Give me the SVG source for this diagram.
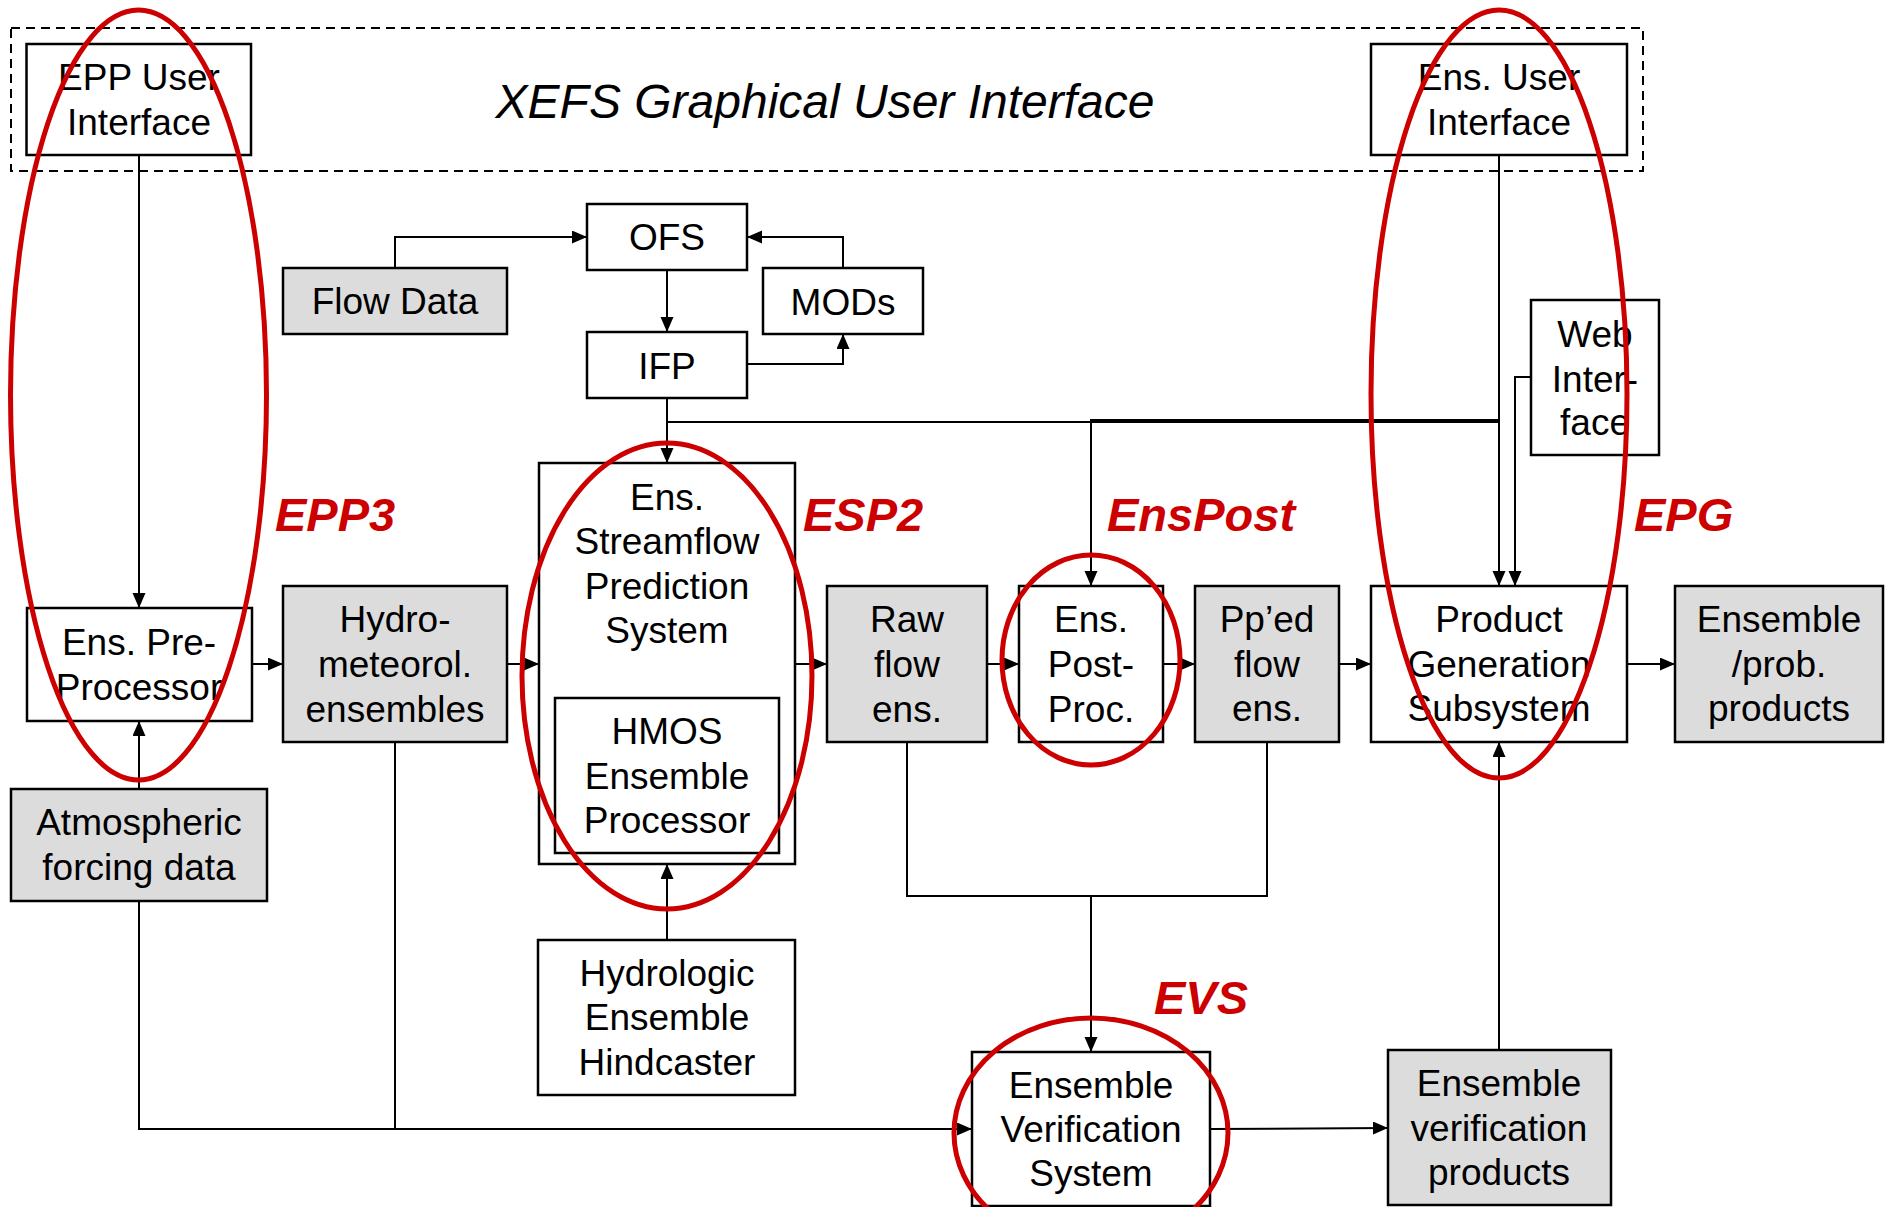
<svg xmlns="http://www.w3.org/2000/svg" width="1890" height="1207" viewBox="0 0 1890 1207">
<style>
.box{fill:#fff;stroke:#000;stroke-width:2.5}
.gray{fill:#dcdcdc;stroke:#000;stroke-width:2.5}
.t{font-family:"Liberation Sans",Arial,sans-serif;font-size:37px;fill:#000;text-anchor:middle}
.c{fill:none;stroke:#000;stroke-width:2}
.a{marker-end:url(#arr)}
.red{fill:none;stroke:#cc0000;stroke-width:5}
.lab{font-family:"Liberation Sans",Arial,sans-serif;font-size:47px;font-weight:bold;font-style:italic;fill:#cc0000}
</style>
<defs>
<marker id="arr" markerUnits="userSpaceOnUse" markerWidth="16" markerHeight="14" refX="15" refY="6.5" orient="auto">
<path d="M0,0 L15,6.5 L0,13 z" fill="#000"/>
</marker>
</defs>
<rect width="1890" height="1207" fill="#fff"/>
<g id="gui">
<rect x="11" y="28" width="1632" height="143" fill="none" stroke="#000" stroke-width="2" stroke-dasharray="9,6"/>
<text x="825" y="118" font-family="Liberation Sans,Arial,sans-serif" font-size="48" font-style="italic" text-anchor="middle">XEFS Graphical User Interface</text>
</g>
<g id="epp-ui"><rect class="box" x="26.5" y="44" width="224.5" height="111"/><text class="t" x="139" y="90">EPP User</text><text class="t" x="139" y="135">Interface</text></g>
<g id="ens-ui"><rect class="box" x="1371" y="44" width="256" height="111"/><text class="t" x="1499" y="90">Ens. User</text><text class="t" x="1499" y="135">Interface</text></g>
<g id="ofs"><rect class="box" x="587" y="204" width="160" height="66"/><text class="t" x="667" y="250">OFS</text></g>
<g id="mods"><rect class="box" x="763" y="268" width="160" height="66"/><text class="t" x="843" y="315">MODs</text></g>
<g id="ifp"><rect class="box" x="587" y="332" width="160" height="66"/><text class="t" x="667" y="379">IFP</text></g>
<g id="flow-data"><rect class="gray" x="283" y="268" width="224" height="66"/><text class="t" x="395" y="314">Flow Data</text></g>
<g id="web"><rect class="box" x="1531" y="300" width="128" height="155"/><text class="t" x="1595" y="347">Web</text><text class="t" x="1595" y="392">Inter-</text><text class="t" x="1595" y="435">face</text></g>
<g id="ens-pre"><rect class="box" x="27" y="608" width="225" height="113"/><text class="t" x="139" y="655">Ens. Pre-</text><text class="t" x="139" y="700">Processor</text></g>
<g id="hydro"><rect class="gray" x="283" y="586" width="224" height="156"/><text class="t" x="395" y="632">Hydro-</text><text class="t" x="395" y="677">meteorol.</text><text class="t" x="395" y="722">ensembles</text></g>
<g id="esp"><rect class="box" x="539" y="463" width="256" height="401"/><text class="t" x="667" y="510">Ens.</text><text class="t" x="667" y="554">Streamflow</text><text class="t" x="667" y="599">Prediction</text><text class="t" x="667" y="643">System</text></g>
<g id="hmos"><rect class="box" x="555" y="698" width="224" height="155"/><text class="t" x="667" y="744">HMOS</text><text class="t" x="667" y="789">Ensemble</text><text class="t" x="667" y="833">Processor</text></g>
<g id="raw"><rect class="gray" x="827" y="586" width="160" height="156"/><text class="t" x="907" y="632">Raw</text><text class="t" x="907" y="677">flow</text><text class="t" x="907" y="722">ens.</text></g>
<g id="enspost"><rect class="box" x="1019" y="586" width="144" height="156"/><text class="t" x="1091" y="632">Ens.</text><text class="t" x="1091" y="677">Post-</text><text class="t" x="1091" y="722">Proc.</text></g>
<g id="pped"><rect class="gray" x="1195" y="586" width="144" height="156"/><text class="t" x="1267" y="632">Pp’ed</text><text class="t" x="1267" y="677">flow</text><text class="t" x="1267" y="721">ens.</text></g>
<g id="pgs"><rect class="box" x="1371" y="586" width="256" height="156"/><text class="t" x="1499" y="632">Product</text><text class="t" x="1499" y="677">Generation</text><text class="t" x="1499" y="721">Subsystem</text></g>
<g id="prob"><rect class="gray" x="1675" y="586" width="208" height="156"/><text class="t" x="1779" y="632">Ensemble</text><text class="t" x="1779" y="677">/prob.</text><text class="t" x="1779" y="721">products</text></g>
<g id="atmos"><rect class="gray" x="11" y="789" width="256" height="112"/><text class="t" x="139" y="835">Atmospheric</text><text class="t" x="139" y="880">forcing data</text></g>
<g id="hindcaster"><rect class="box" x="538" y="940" width="257" height="155"/><text class="t" x="667" y="986">Hydrologic</text><text class="t" x="667" y="1030">Ensemble</text><text class="t" x="667" y="1075">Hindcaster</text></g>
<g id="evs"><rect class="box" x="972" y="1052" width="238" height="154"/><text class="t" x="1091" y="1098">Ensemble</text><text class="t" x="1091" y="1142">Verification</text><text class="t" x="1091" y="1186">System</text></g>
<g id="evp"><rect class="gray" x="1388" y="1050" width="223" height="155"/><text class="t" x="1499" y="1096">Ensemble</text><text class="t" x="1499" y="1141">verification</text><text class="t" x="1499" y="1185">products</text></g>
<g id="connectors">
<path class="c a" d="M139,155 V608"/>
<path class="c a" d="M139,789 V721"/>
<path class="c a" d="M139,901 V1129 H972"/>
<path class="c" d="M395,742 V1129"/>
<path class="c a" d="M252,664 H283"/>
<path class="c a" d="M507,664 H539"/>
<path class="c a" d="M795,664 H827"/>
<path class="c a" d="M987,664 H1019"/>
<path class="c a" d="M1163,664 H1195"/>
<path class="c a" d="M1339,664 H1371"/>
<path class="c a" d="M1627,664 H1675"/>
<path class="c a" d="M395,268 V237 H587"/>
<path class="c a" d="M843,268 V237 H747"/>
<path class="c a" d="M667,270 V332"/>
<path class="c a" d="M747,364 H843 V334"/>
<path class="c a" d="M667,398 V463"/>
<path class="c" d="M667,422 H1499"/>
<path class="c a" d="M1499,155 V586"/>
<path class="c a" d="M1499,420 H1091 V586"/>
<path class="c a" d="M1531,377 H1515 V586"/>
<path class="c" d="M907,742 V896 H1267 V742"/>
<path class="c a" d="M1091,896 V1052"/>
<path class="c a" d="M1210,1129 L1388,1128"/>
<path class="c a" d="M1499,1050 V742"/>
<path class="c a" d="M667,940 V864"/>
</g>
<g id="highlights">
<ellipse class="red" cx="138.5" cy="395" rx="128" ry="385"/>
<ellipse class="red" cx="1499" cy="394" rx="128" ry="384"/>
<ellipse class="red" cx="667" cy="676" rx="145" ry="233"/>
<ellipse class="red" cx="1091" cy="660" rx="89" ry="105"/>
<ellipse class="red" cx="1091" cy="1133" rx="137" ry="115"/>
<text class="lab" x="275" y="531">EPP3</text>
<text class="lab" x="803" y="531">ESP2</text>
<text class="lab" x="1107" y="531">EnsPost</text>
<text class="lab" x="1634" y="531">EPG</text>
<text class="lab" x="1154" y="1014">EVS</text>
</g>
</svg>
